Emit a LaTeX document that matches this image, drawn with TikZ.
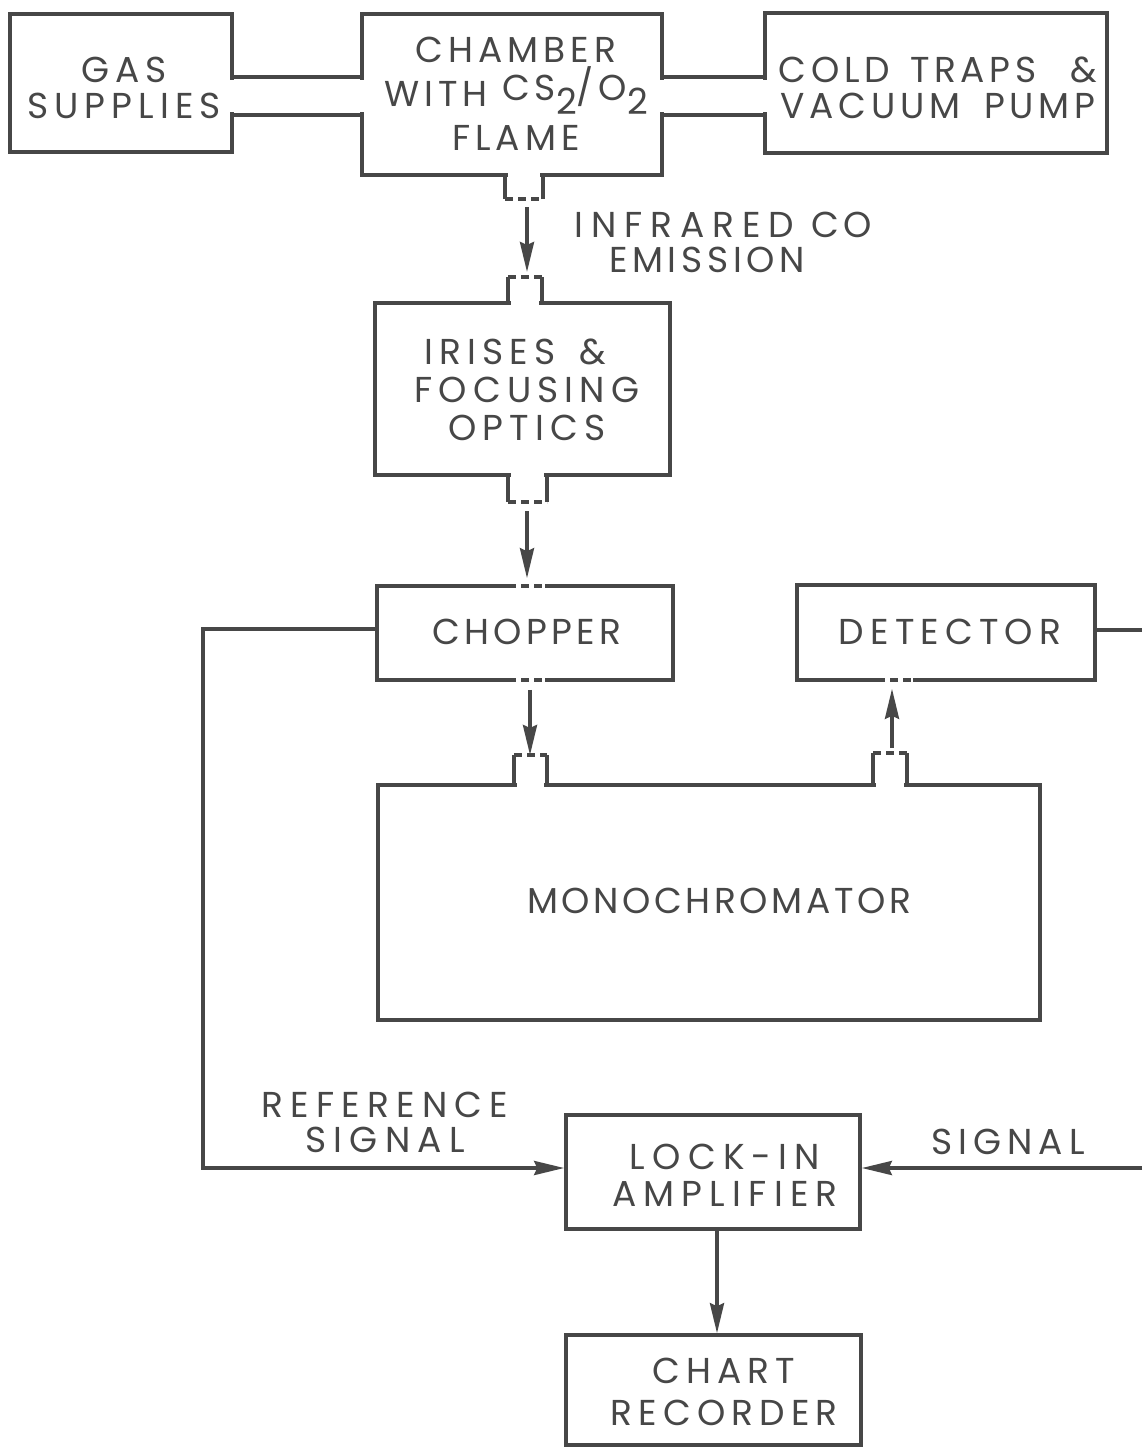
\documentclass[tikz,border=0pt]{standalone}
\usepackage{fontspec}
\setmainfont{Poppins}[LetterSpace=17]
\usetikzlibrary{fit,arrows.meta,calc}
\definecolor{ink}{HTML}{474747}
\newcommand{\ls}[1]{\addfontfeatures{LetterSpace=#1}}
\begin{document}
\begin{tikzpicture}[x=0.5pt,y=-0.5pt,
  box/.style={draw=ink, line width=1.8pt, inner sep=0pt},
  lbl/.style={text=ink, align=center, inner sep=0pt, font=\fontsize{18}{18}\selectfont},
  wire/.style={draw=ink, line width=1.8pt},
  arr/.style={wire, -{Stealth[length=15pt,width=7pt,inset=1.5pt]}},
  erase/.style={draw=white, line width=2.8pt},
  gapline/.style={draw=ink, line width=1.8pt, dash pattern=on 4pt off 2.5pt}]
\useasboundingbox (0,0) rectangle (1142,1447);
\fill[white] (0,0) rectangle (1142,1447);

% boxes
\node[box, fit={(10,14)(232,152)}] (gas) {};
\node[box, fit={(362,14)(662,175)}] (chamber) {};
\node[box, fit={(765,13)(1107,153)}] (cold) {};
\node[box, fit={(375,303)(670,475)}] (optics) {};
\node[box, fit={(377,586)(673,680)}] (chopper) {};
\node[box, fit={(797,585)(1095,680)}] (detector) {};
\node[box, fit={(378,785)(1040,1020)}] (mono) {};
\node[box, fit={(566,1115)(860,1229)}] (lockin) {};
\node[box, fit={(566,1335)(861,1445)}] (chart) {};

% texts inside boxes
\node[lbl] (gastxt) at (124,88) {GAS\\SUPPLIES};
\node[lbl, font=\fontsize{18}{22}\selectfont\ls{14}] (chambertxt) at (516,94)
  {CHAMBER\\WITH \raisebox{.3ex}{CS}\raisebox{-.4ex}{2}\raisebox{.3ex}{/O}\raisebox{-.4ex}{2}\\FLAME};
\node[lbl, font=\fontsize{18}{18}\selectfont\ls{13}] (coldtxt) at (938,88)
  {COLD\hspace{3pt} TRAPS\hspace{10pt} \&\\VACUUM\hspace{5pt} PUMP};
\node[lbl, font=\fontsize{18}{19}\selectfont] (opticstxt) at (527,390)
  {IRISES\hspace{4pt} \&\hspace*{12pt}\\FOCUSING\\OPTICS};
\node[lbl, font=\fontsize{18}{18}\selectfont\ls{12}] (choppertxt) at (527,632) {CHOPPER};
\node[lbl] (detectortxt) at (950,632) {DETECTOR};
\node[lbl, font=\fontsize{18}{18}\selectfont\ls{10}] (monotxt) at (719,901) {MONOCHROMATOR};
\node[lbl, font=\fontsize{18}{18.5}\selectfont\ls{20}] (lockintxt) at (725,1175) {LOCK-IN\\AMPLIFIER};
\node[lbl, font=\fontsize{18}{21}\selectfont] (charttxt) at (724,1392) {CHART\\RECORDER};

% free labels
\node[lbl, font=\fontsize{18}{17.5}\selectfont\ls{22}] (irlbl) at (723,242)
  {INFRARED C\kern2pt O\\{\ls{13}EMISSION}\hspace*{16pt}};
\node[lbl, font=\fontsize{18}{17.5}\selectfont\ls{20}] (reflbl) at (385,1122) {REFERENCE\\SIGNAL};
\node[lbl] (siglbl) at (1008,1142) {SIGNAL};

% pipes between top boxes
\draw[erase] (232,80) -- (232,112);
\draw[erase] (362,80) -- (362,112);
\draw[erase] (662,80) -- (662,112);
\draw[erase] (765,80) -- (765,112);
\draw[wire] (gas.east |- 0,77) -- (chamber.west |- 0,77);
\draw[wire] (gas.east |- 0,115) -- (chamber.west |- 0,115);
\draw[wire] (chamber.east |- 0,77) -- (cold.west |- 0,77);
\draw[wire] (chamber.east |- 0,115) -- (cold.west |- 0,115);

% chamber bottom port
\draw[erase] (508,175) -- (540,175);
\draw[wire] (505,175) -- (505,199) (543,199) -- (543,175);
\draw[gapline] (505,199) -- (543,199);
\coordinate (chport) at (524,199);

% optics top port
\draw[erase] (511,303) -- (539,303);
\draw[wire] (508,303) -- (508,277) (542,277) -- (542,303);
\draw[gapline] (508,277) -- (542,277);
\coordinate (opin) at (525,277);

% optics bottom port
\draw[erase] (511,475) -- (544,475);
\draw[wire] (508,475) -- (508,502) (547,502) -- (547,475);
\draw[gapline] (508,502) -- (547,502);
\coordinate (opout) at (527,502);

% chopper windows
\draw[erase] (510,586) -- (545,586);
\draw[gapline] (508,586) -- (547,586);
\draw[erase] (510,680) -- (545,680);
\draw[gapline] (508,680) -- (547,680);

% monochromator ports
\draw[erase] (517,785) -- (544,785);
\draw[wire] (514,785) -- (514,755) (547,755) -- (547,785);
\draw[gapline] (514,755) -- (547,755);
\coordinate (monoin) at (530,755);
\draw[erase] (876,785) -- (904,785);
\draw[wire] (873,785) -- (873,753) (907,753) -- (907,785);
\draw[gapline] (873,753) -- (907,753);
\coordinate (monoout) at (892,753);

% detector window
\draw[erase] (879,680) -- (913,680);
\draw[gapline] (877,680) -- (915,680);

% beam arrows
\draw[arr] ($(chport)+(3,8)$) -- ($(opin)+(2,-5)$);
\draw[arr] ($(opout)+(0,9)$) -- ($(chopper.north)+(2,-6)$);
\draw[arr] ($(chopper.south)+(5,8)$) -- ($(monoin)+(0,0)$);
\draw[arr] ($(monoout)+(0,-5)$) -- ($(detector.south)+(-54,7)$);

% signal wiring
\coordinate (rightedgeA) at (1142,630);
\coordinate (rightedgeB) at (1142,1168);
\draw[wire] (detector.east |- rightedgeA) -- (rightedgeA);
\draw[arr] (chopper.west |- 0,629) -| (203,1168) -- (lockin.west |- 0,1168);
\draw[arr] (rightedgeB) -- (lockin.east |- rightedgeB);
\draw[arr] (lockin.south -| 717,0) -- (chart.north -| 717,0);
\end{tikzpicture}
\end{document}
